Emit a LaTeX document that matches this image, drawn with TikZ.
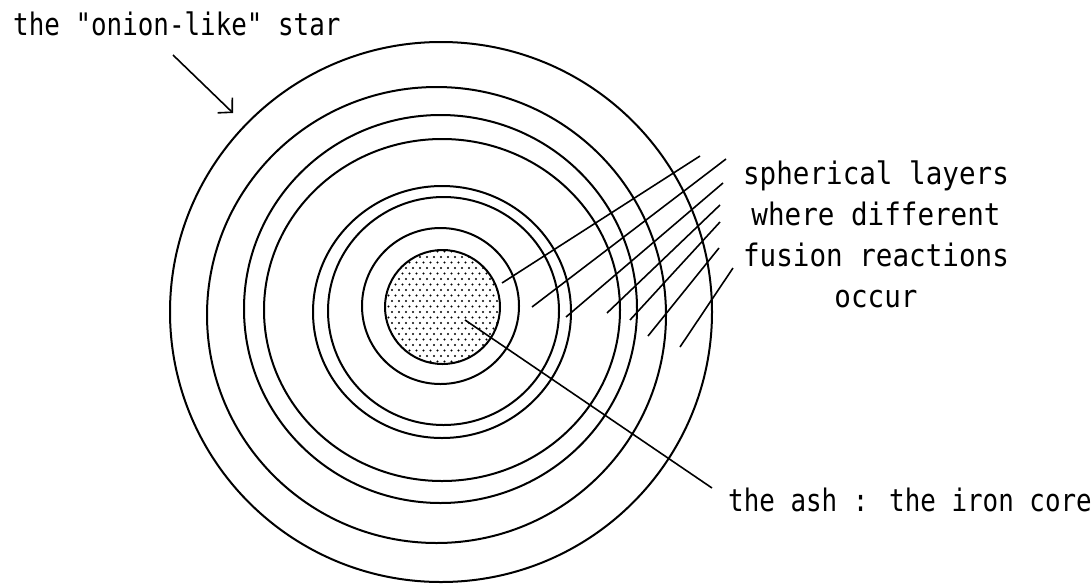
\documentclass[tikz,border=0pt]{standalone}
\usepackage{fontspec}
\newfontfamily\macfont[FakeStretch=0.835]{DejaVu Sans Mono}
\newfontfamily\macwide[FakeStretch=0.89]{DejaVu Sans Mono}
\usetikzlibrary{arrows.meta,patterns}
\pgfdeclarepatternformonly{core dots}{\pgfqpoint{-1.5pt}{-1.5pt}}{\pgfqpoint{8.5pt}{12.5pt}}{\pgfqpoint{7pt}{11pt}}{%
  \pgfpathcircle{\pgfqpoint{0pt}{0pt}}{1.1pt}%
  \pgfpathcircle{\pgfqpoint{3.5pt}{5.5pt}}{1.1pt}%
  \pgfusepath{fill}}
\tikzset{
  shell/.style={line width=2pt},
  pointer/.style={line width=1.6pt},
  starlabel/.style={font=\macfont\fontsize{31}{41}\selectfont, inner sep=0pt},
  layerlabel/.style={font=\macwide\fontsize{31}{41}\selectfont, inner sep=0pt, align=center},
}

\begin{document}
\begin{tikzpicture}[x=1pt,y=-1pt]
        \useasboundingbox (0,0) rectangle (1092,587);
        % shells of the star, outside in
        \foreach \cx/\cy/\rx/\ry in {441/312/271/270, 436.5/315/229.5/228,
            440.5/309/196.5/194, 442/310/178/171, 442/312/129/126,
            443.5/311/115.5/114, 440.5/306/78.5/78}{
          \draw[shell] (\cx,\cy) ellipse [x radius=\rx pt, y radius=\ry pt];
        }
        % iron core
        \draw[shell, pattern=core dots] (442.5,307) ellipse [x radius=57.5pt, y radius=57pt];

        % labels
        \node[starlabel, anchor=base west] (onion) at (13,35) {the "onion-like" star};
        \node[layerlabel, anchor=base] (layers) at (876,307)
          {spherical layers\\where different\\fusion reactions\\occur};
        \node[starlabel, anchor=base west] (ash) at (728,511) {the ash : the iron core};

        % arrow to the outer shell
        \coordinate (onionfrom) at (173,55);
        \coordinate (onionto) at (233,113);
        \draw[pointer, -{Straight Barb[length=10pt, width=21pt]}] (onionfrom) -- (onionto);

        % lines through the layers
        \foreach \i/\a/\b/\c/\d in {1/502/283/700/156, 2/532/307/726/159,
            3/566/317/723/183, 4/607/313/720/205, 5/630/320/720/222,
            6/648/336/719/248, 7/680/347/733/268}{
          \coordinate (in\i) at (\a,\b);
          \coordinate (out\i) at (\c,\d);
          \draw[pointer] (in\i) -- (out\i);
        }

        % line to the core
        \coordinate (core) at (465,320);
        \coordinate (ashtip) at (712,488);
        \draw[pointer] (core) -- (ashtip);
\end{tikzpicture}
\end{document}
